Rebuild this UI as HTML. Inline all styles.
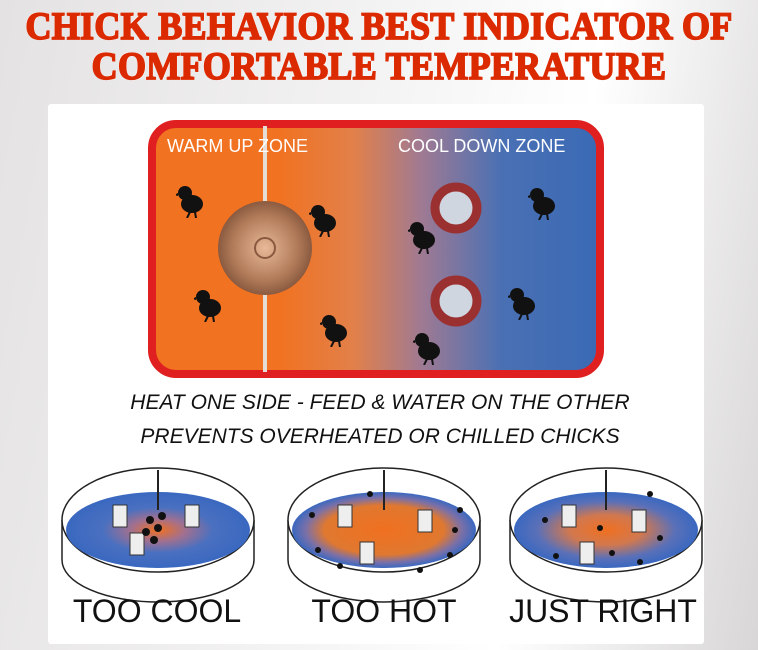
<!DOCTYPE html>
<html><head><meta charset="utf-8"><style>
html,body{margin:0;padding:0}
body{width:758px;height:650px;overflow:hidden;background:linear-gradient(100deg,#e4e2e2 0%,#f2f1f1 40%,#ffffff 70%,#d8d6d6 100%);font-family:"Liberation Sans",sans-serif;position:relative}
.title{position:absolute;left:0;width:758px;text-align:center;font-family:"Liberation Serif",serif;font-weight:bold;color:#dc2a00;font-size:36px;letter-spacing:0.3px;-webkit-text-stroke:1.6px #dc2a00;transform:scaleY(1.08);text-shadow:1px 1px 0 #fff,-1px -1px 0 #fff}
.panel{position:absolute;left:48px;top:104px;width:656px;height:540px;background:#fff;border-radius:3px}
</style></head><body>
<div class="title" style="top:5px">CHICK BEHAVIOR BEST INDICATOR OF</div>
<div class="title" style="top:45px">COMFORTABLE TEMPERATURE</div>
<div class="panel"></div>
<svg width="758" height="650" style="position:absolute;left:0;top:0">
<defs>
<linearGradient id="g" x1="0" x2="1"><stop offset="0.28" stop-color="#f17220"/><stop offset="0.45" stop-color="#e2804a"/><stop offset="0.6" stop-color="#a07a92"/><stop offset="0.78" stop-color="#4a70b4"/><stop offset="1" stop-color="#3a6ab5"/></linearGradient>
<radialGradient id="h"><stop offset="0" stop-color="#e8b898"/><stop offset="0.7" stop-color="#b07a58"/><stop offset="1" stop-color="#8a5a40"/></radialGradient>
<radialGradient id="p1"><stop offset="0" stop-color="#f07020"/><stop offset="0.3" stop-color="#a07090"/><stop offset="0.6" stop-color="#4a70c0"/><stop offset="1" stop-color="#3a68c0"/></radialGradient>
<radialGradient id="p2"><stop offset="0" stop-color="#f07020"/><stop offset="0.65" stop-color="#e07830"/><stop offset="0.85" stop-color="#7a70a8"/><stop offset="1" stop-color="#3a68c0"/></radialGradient>
<radialGradient id="p3"><stop offset="0" stop-color="#f07020"/><stop offset="0.4" stop-color="#d07850"/><stop offset="0.75" stop-color="#5a70b8"/><stop offset="1" stop-color="#3a68c0"/></radialGradient>
<symbol id="chick" viewBox="0 0 30 34"><ellipse cx="16" cy="20" rx="11" ry="9" fill="#111"/><circle cx="9" cy="9" r="7" fill="#111"/><path d="M2 9 L-2 11 L2 12Z" fill="#111"/><path d="M14 28 L11 34 M19 28 L20 34" stroke="#111" stroke-width="2"/></symbol>
</defs>
<rect x="152" y="124" width="448" height="250" rx="24" fill="url(#g)" stroke="#e02020" stroke-width="8"/>
<line x1="265" y1="126" x2="265" y2="372" stroke="#e6ddd6" stroke-width="4"/>
<circle cx="265" cy="248" r="47" fill="url(#h)"/>
<circle cx="265" cy="248" r="10" fill="none" stroke="#8a5a40" stroke-width="2"/>
<text x="167" y="152" fill="#fff" font-size="18">WARM UP ZONE</text>
<text x="398" y="152" fill="#fff" font-size="18">COOL DOWN ZONE</text>
<circle cx="456" cy="208" r="21" fill="#cfd6e0" stroke="#9a3030" stroke-width="9"/>
<circle cx="456" cy="301" r="21" fill="#cfd6e0" stroke="#9a3030" stroke-width="9"/>
<use href="#chick" x="176" y="184" width="30" height="34"/>
<use href="#chick" x="194" y="288" width="30" height="34"/>
<use href="#chick" x="309" y="203" width="30" height="34"/>
<use href="#chick" x="320" y="313" width="30" height="34"/>
<use href="#chick" x="408" y="220" width="30" height="34"/>
<use href="#chick" x="413" y="331" width="30" height="34"/>
<use href="#chick" x="528" y="186" width="30" height="34"/>
<use href="#chick" x="508" y="286" width="30" height="34"/>
<text x="380" y="409" text-anchor="middle" font-size="21" font-style="italic" fill="#111">HEAT ONE SIDE - FEED &amp; WATER ON THE OTHER</text>
<text x="380" y="443" text-anchor="middle" font-size="21" font-style="italic" fill="#111">PREVENTS OVERHEATED OR CHILLED CHICKS</text>
<g>
<path d="M62 520 L62 560 A96 42 0 0 0 254 560 L254 520" fill="#fff" stroke="#222" stroke-width="1.5"/>
<ellipse cx="158" cy="520" rx="96" ry="52" fill="#fff" stroke="#222" stroke-width="1.5"/>
<ellipse cx="158" cy="530" rx="92" ry="38" fill="url(#p1)"/>
<line x1="158" y1="470" x2="158" y2="510" stroke="#222" stroke-width="2"/>
</g>
<g>
<path d="M288 520 L288 560 A96 42 0 0 0 480 560 L480 520" fill="#fff" stroke="#222" stroke-width="1.5"/>
<ellipse cx="384" cy="520" rx="96" ry="52" fill="#fff" stroke="#222" stroke-width="1.5"/>
<ellipse cx="384" cy="530" rx="92" ry="38" fill="url(#p2)"/>
<line x1="384" y1="470" x2="384" y2="510" stroke="#222" stroke-width="2"/>
</g>
<g>
<path d="M510 520 L510 560 A96 42 0 0 0 702 560 L702 520" fill="#fff" stroke="#222" stroke-width="1.5"/>
<ellipse cx="606" cy="520" rx="96" ry="52" fill="#fff" stroke="#222" stroke-width="1.5"/>
<ellipse cx="606" cy="530" rx="92" ry="38" fill="url(#p3)"/>
<line x1="606" y1="470" x2="606" y2="510" stroke="#222" stroke-width="2"/>
</g>
<g fill="#eee" stroke="#333" stroke-width="1">
<rect x="113" y="505" width="14" height="22"/><rect x="185" y="505" width="14" height="22"/><rect x="130" y="533" width="14" height="22"/>
<rect x="338" y="505" width="14" height="22"/><rect x="418" y="510" width="14" height="22"/><rect x="360" y="542" width="14" height="22"/>
<rect x="562" y="505" width="14" height="22"/><rect x="632" y="510" width="14" height="22"/><rect x="580" y="542" width="14" height="22"/>
</g>
<g fill="#111">
<circle cx="150" cy="520" r="4"/><circle cx="158" cy="528" r="4"/><circle cx="146" cy="532" r="4"/><circle cx="162" cy="516" r="4"/><circle cx="154" cy="540" r="4"/>
<circle cx="312" cy="515" r="3"/><circle cx="318" cy="550" r="3"/><circle cx="455" cy="530" r="3"/><circle cx="450" cy="555" r="3"/><circle cx="340" cy="566" r="3"/><circle cx="420" cy="570" r="3"/><circle cx="460" cy="510" r="3"/><circle cx="370" cy="494" r="3"/>
<circle cx="545" cy="520" r="3"/><circle cx="556" cy="556" r="3"/><circle cx="660" cy="538" r="3"/><circle cx="640" cy="562" r="3"/><circle cx="600" cy="528" r="3"/><circle cx="612" cy="553" r="3"/><circle cx="650" cy="494" r="3"/>
</g>
<text x="157" y="622" text-anchor="middle" font-size="32" fill="#111">TOO COOL</text>
<text x="384" y="622" text-anchor="middle" font-size="32" fill="#111">TOO HOT</text>
<text x="603" y="622" text-anchor="middle" font-size="32" fill="#111">JUST RIGHT</text>
</svg>
</body></html>
